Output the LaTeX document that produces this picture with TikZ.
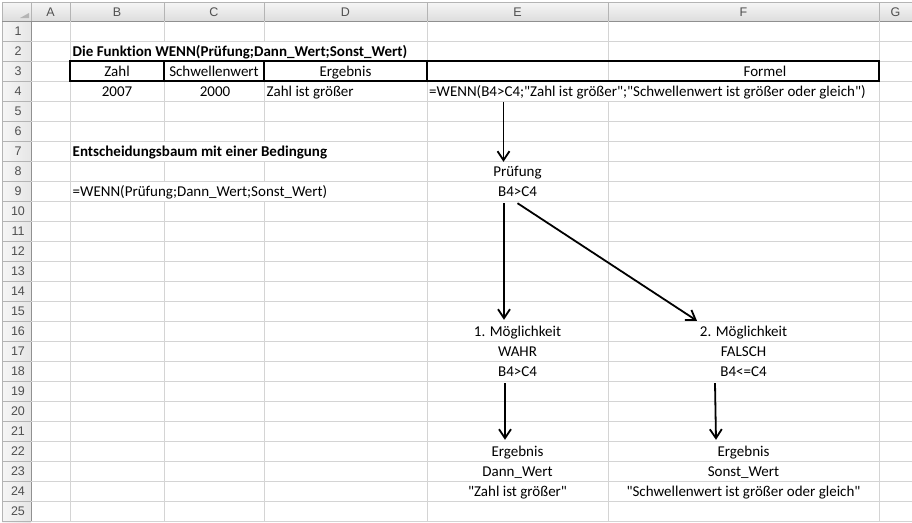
\documentclass[tikz,border=0pt]{standalone}
\usepackage{fontspec}
\setmainfont{Carlito}[Ligatures={TeXOff,NoCommon}]
\newfontfamily\hdrfont{Liberation Sans}
\usetikzlibrary{arrows.meta,calc}

\definecolor{gridc}{HTML}{D4D4D4}
\definecolor{hdrtop}{HTML}{F6F6F6}
\definecolor{hdrbot}{HTML}{DDDDDD}
\definecolor{hdrside}{HTML}{E6E6E6}
\definecolor{hdrline}{HTML}{B4B4B4}
\definecolor{hdrtext}{HTML}{505050}

\begin{document}
\begin{tikzpicture}[x=1pt,y=-1pt,
  txt/.style={inner sep=0pt, text height=15.5pt, text depth=4.5pt,
              font=\fontsize{15}{18}\selectfont},
  cellE/.style={txt, minimum width=181pt},
  cellF/.style={txt, minimum width=271pt},
  lft/.style={txt, anchor=west},
  bld/.style={lft, font=\fontsize{15}{18}\selectfont\bfseries},
  hdr/.style={inner sep=0pt, font=\hdrfont\fontsize{12.5}{14}\selectfont, text=hdrtext},
  arr/.style={line width=1.8pt, -{Straight Barb[length=9pt,width=12pt,line width=1.8pt]}},
  gridln/.style={gridc, line width=1pt},
  hline/.style={hdrline, line width=0.8pt},
  frame/.style={black, line width=1.2pt}
]
\useasboundingbox (0,0) rectangle (912,522);
\fill[white] (0,0) rectangle (912,522);

% ---- sheet headers ----
\shade[top color=hdrtop, bottom color=hdrbot] (2,2) rectangle (912,21);
\shade[left color=hdrtop, right color=hdrside] (2,21) rectangle (31,522);
\fill[hdrline] (29,13) -- (29,18) -- (20,18) -- cycle;
\draw[hline] (2,2) -- (912,2);
\draw[hline] (2,2) -- (2,522);
\draw[hdrline!80!black, line width=0.8pt] (2,21) -- (912,21);
\draw[hdrline!80!black, line width=0.8pt] (31,21) -- (31,522);
\foreach \x in {31,70,164,264,427,608,879}
  \draw[hline] (\x,2) -- (\x,21);
\foreach \k in {1,...,25}
  \draw[hline] (2,{21+20*\k}) -- (31,{21+20*\k});

\foreach \c/\x in {A/50.5,B/117,C/214,D/345.5,E/517.5,F/743.5,G/895.5}
  \node[hdr] (col\c) at (\x,12) {\c};
\foreach \k in {1,...,25}
  \node[hdr] (row\k) at (18,{11+20*\k}) {\k};

% ---- cell grid ----
\foreach \k in {2,...,25}
  \draw[gridln] (31,{21+20*\k}) -- (912,{21+20*\k});
\draw[gridln] (31,41) -- (912,41);
\foreach \x in {70,427,879}
  \draw[gridln] (\x,21) -- (\x,522);
\foreach \x in {164,264}{
  \draw[gridln] (\x,21) -- (\x,41);
  \draw[gridln] (\x,61) -- (\x,141);
  \draw[gridln] (\x,161) -- (\x,181);
  \draw[gridln] (\x,201) -- (\x,522);
}
\draw[gridln] (608,21) -- (608,81);
\draw[gridln] (608,101) -- (608,522);

% ---- table B3:F4 ----
\draw[frame] (70,61) rectangle (879,81);
\foreach \x in {164,264,427}
  \draw[frame] (\x,61) -- (\x,81);

\node[bld] (title) at (72.5,51) {Die Funktion WENN(Prüfung;Dann\_Wert;Sonst\_Wert)};
\node[txt] (hZahl) at (117,71) {Zahl};
\node[txt] (hSchw) at (214,71) {Schwellenwert};
\node[txt] (hErg) at (345.5,71) {Ergebnis};
\node[txt] (hForm) at (765,71) {Formel};
\node[txt] (vZahl) at (117,91) {2007};
\node[txt] (vSchw) at (215,91) {2000};
\node[lft] (vErg) at (266.5,91) {Zahl ist größer};
\node[lft] (formel) at (429,91) {=WENN(B4>C4;"Zahl ist größer";"Schwellenwert ist größer oder gleich")};

\node[bld] (subtitle) at (72.5,151) {Entscheidungsbaum mit einer Bedingung};
\node[lft] (syntax) at (72.5,191) {=WENN(Prüfung;Dann\_Wert;Sonst\_Wert)};

% ---- decision tree ----
\node[cellE] (pruef) at (517.5,171) {Prüfung};
\node[cellE] (pcond) at (517.5,191) {B4>C4};

\node[cellE] (m1) at (517.5,331) {1. Möglichkeit};
\node[cellE] (w1) at (517.5,351) {WAHR};
\node[cellE] (c1) at (517.5,371) {B4>C4};
\node[cellF] (m2) at (743.5,331) {2. Möglichkeit};
\node[cellF] (w2) at (743.5,351) {FALSCH};
\node[cellF] (c2) at (743.5,371) {B4<=C4};

\node[cellE] (r1) at (517.5,451) {Ergebnis};
\node[cellE] (d1) at (517.5,471) {Dann\_Wert};
\node[cellE] (z1) at (517.5,491) {"Zahl ist größer"};
\node[cellF] (r2) at (743.5,451) {Ergebnis};
\node[cellF] (d2) at (743.5,471) {Sonst\_Wert};
\node[cellF] (z2) at (743.5,491) {"Schwellenwert ist größer oder gleich"};

\coordinate (fstart) at ($(formel.south -| pruef.north)+(-14,1)$);
\draw[arr] (fstart) -- ([shift={(-14,1)}]pruef.north);
\draw[arr] ([shift={(-13.5,2)}]pcond.south) -- ([shift={(-13.5,-1)}]m1.north);
\draw[arr] ([shift={(0,2)}]pcond.south) -- ([shift={(-46.5,0)}]m2.north);
\draw[arr] ([shift={(-12.5,2)}]c1.south) -- ([shift={(-12.5,-1)}]r1.north);
\draw[arr] ([shift={(-28.5,2)}]c2.south) -- ([shift={(-27.5,-1)}]r2.north);
\end{tikzpicture}
\end{document}
